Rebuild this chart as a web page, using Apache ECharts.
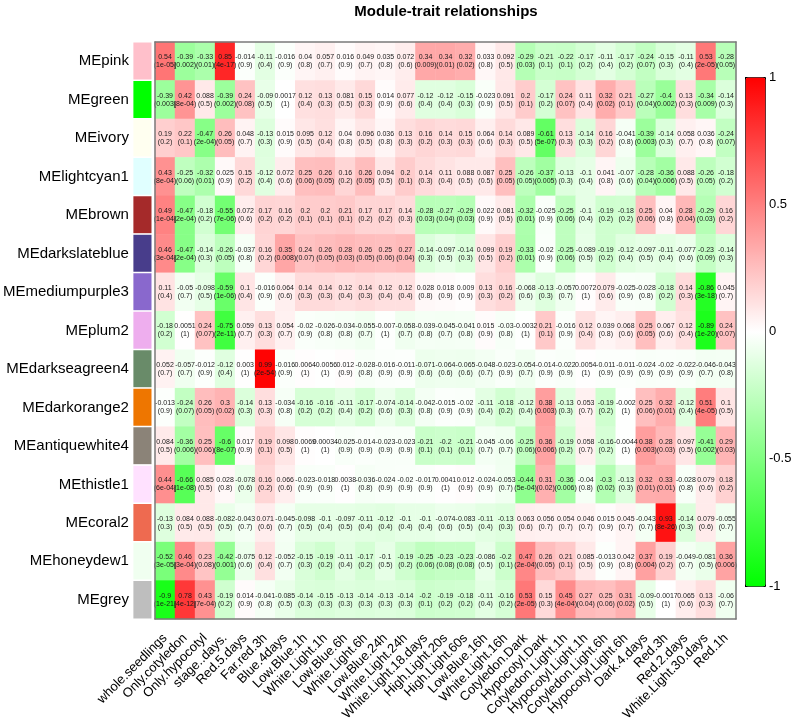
<!DOCTYPE html>
<html>
<head>
<meta charset="utf-8">
<title>Module-trait relationships</title>
<script src="https://cdn.jsdelivr.net/npm/echarts@6/dist/echarts.min.js"></script>
<style>
  html, body { margin: 0; padding: 0; background: #fff; }
  #main { width: 796px; height: 725px; }
</style>
</head>
<body>
<div id="main"></div>
<script>
// traits (columns)
const traits = ['whole.seedlings', 'Only.cotyledon', 'Only.hypocotyl', 'stage..days.', 'Red.5.days',
  'Far.red.3h', 'Blue.4days', 'Low.Blue.1h', 'White.Light.1h', 'Low.Blue.6h', 'White.Light.6h',
  'Low.Blue.24h', 'White.Light.24h', 'White.Light.18.days', 'High.Light.20s', 'High.Light.60s',
  'Low.Blue.16h', 'White.Light.16h', 'Cotyledon.Dark', 'Hypocotyl.Dark', 'Cotyledon.Light.1h',
  'Hypocotyl.Light.1h', 'Cotyledon.Light.6h', 'Hypocotyl.Light.6h', 'Dark.4.days', 'Red.3h',
  'Red.2.days', 'White.Light.30.days', 'Red.1h']

// modules (rows) and their colours
const modules = ['MEpink', 'MEgreen', 'MEivory', 'MElightcyan1', 'MEbrown', 'MEdarkslateblue',
  'MEmediumpurple3', 'MEplum2', 'MEdarkseagreen4', 'MEdarkorange2', 'MEantiquewhite4',
  'MEthistle1', 'MEcoral2', 'MEhoneydew1', 'MEgrey']
const moduleColors = ['#FFC0CB', '#00FF00', '#FFFFF0', '#E0FFFF', '#A52A2A', '#483D8B',
  '#8968CD', '#EEAEEE', '#698B69', '#EE7600', '#8B8378', '#FFE1FF', '#EE6A50', '#F0FFF0', '#BEBEBE']

// correlation (r) and p-value (p) per module
const MEpink_r = [0.54, -0.39, -0.33, 0.85, -0.014, -0.11, -0.016, 0.04, 0.057, 0.016, 0.049, 0.035, 0.072, 0.34, 0.34, 0.32, 0.033, 0.092, -0.29, -0.21, -0.22, -0.17, -0.11, -0.17, -0.24, -0.15, -0.11, 0.53, -0.28]
const MEpink_p = ['1e-05', '0.002', '0.01', '4e-17', '0.9', '0.4', '0.9', '0.8', '0.7', '0.9', '0.7', '0.8', '0.6', '0.009', '0.01', '0.02', '0.8', '0.5', '0.03', '0.1', '0.1', '0.2', '0.4', '0.2', '0.07', '0.3', '0.4', '2e-05', '0.05']

const MEgreen_r = [-0.39, 0.42, 0.088, -0.39, 0.24, -0.09, 0.0017, 0.12, 0.13, 0.081, 0.15, 0.014, 0.077, -0.12, -0.12, -0.15, -0.023, 0.091, 0.2, -0.17, 0.24, 0.11, 0.32, 0.21, -0.27, -0.4, 0.13, -0.34, -0.14]
const MEgreen_p = ['0.003', '8e-04', '0.5', '0.002', '0.08', '0.5', '1', '0.4', '0.3', '0.5', '0.3', '0.9', '0.6', '0.4', '0.4', '0.3', '0.9', '0.5', '0.1', '0.2', '0.07', '0.4', '0.02', '0.1', '0.04', '0.002', '0.3', '0.009', '0.3']

const MEivory_r = [0.19, 0.22, -0.47, 0.26, 0.048, -0.13, 0.015, 0.095, 0.12, 0.04, 0.096, 0.036, 0.13, 0.16, 0.14, 0.15, 0.064, 0.14, 0.089, -0.61, 0.13, -0.14, 0.16, -0.041, -0.39, -0.14, 0.058, 0.036, -0.24]
const MEivory_p = ['0.2', '0.1', '2e-04', '0.05', '0.7', '0.3', '0.9', '0.5', '0.4', '0.8', '0.5', '0.8', '0.3', '0.2', '0.3', '0.3', '0.6', '0.3', '0.5', '5e-07', '0.3', '0.3', '0.2', '0.8', '0.003', '0.3', '0.7', '0.8', '0.07']

const MElightcyan1_r = [0.43, -0.25, -0.32, 0.025, 0.15, -0.12, 0.072, 0.25, 0.26, 0.16, 0.26, 0.094, 0.2, 0.14, 0.11, 0.088, 0.087, 0.25, -0.26, -0.37, -0.13, -0.1, 0.041, -0.07, -0.28, -0.36, 0.088, -0.26, -0.18]
const MElightcyan1_p = ['8e-04', '0.06', '0.01', '0.9', '0.2', '0.4', '0.6', '0.06', '0.05', '0.2', '0.05', '0.5', '0.1', '0.3', '0.4', '0.5', '0.5', '0.05', '0.05', '0.005', '0.3', '0.4', '0.8', '0.6', '0.04', '0.006', '0.5', '0.05', '0.2']

const MEbrown_r = [0.49, -0.47, -0.18, -0.55, 0.072, 0.17, 0.16, 0.2, 0.2, 0.21, 0.17, 0.17, 0.14, -0.28, -0.27, -0.29, 0.022, 0.081, -0.32, -0.025, -0.25, -0.1, -0.19, -0.18, 0.25, 0.04, 0.28, -0.29, 0.16]
const MEbrown_p = ['1e-04', '2e-04', '0.2', '7e-06', '0.6', '0.2', '0.2', '0.1', '0.1', '0.1', '0.2', '0.2', '0.3', '0.03', '0.04', '0.03', '0.9', '0.5', '0.01', '0.9', '0.06', '0.4', '0.2', '0.2', '0.06', '0.8', '0.04', '0.03', '0.2']

const MEdarkslateblue_r = [0.46, -0.47, -0.14, -0.26, -0.037, 0.16, 0.35, 0.24, 0.26, 0.28, 0.26, 0.25, 0.27, -0.14, -0.097, -0.14, 0.099, 0.19, -0.33, -0.02, -0.25, -0.089, -0.19, -0.12, -0.097, -0.11, -0.077, -0.23, -0.14]
const MEdarkslateblue_p = ['3e-04', '2e-04', '0.3', '0.05', '0.8', '0.2', '0.008', '0.07', '0.05', '0.03', '0.05', '0.06', '0.04', '0.3', '0.5', '0.3', '0.5', '0.2', '0.01', '0.9', '0.06', '0.5', '0.2', '0.4', '0.5', '0.4', '0.6', '0.09', '0.3']

const MEmediumpurple3_r = [0.11, -0.05, -0.098, -0.59, 0.1, -0.016, 0.064, 0.14, 0.14, 0.12, 0.14, 0.12, 0.12, 0.028, 0.018, 0.009, 0.13, 0.16, -0.068, -0.13, -0.057, 0.0072, 0.079, -0.025, -0.028, -0.18, 0.14, -0.86, 0.045]
const MEmediumpurple3_p = ['0.4', '0.7', '0.5', '1e-06', '0.4', '0.9', '0.6', '0.3', '0.3', '0.4', '0.3', '0.4', '0.4', '0.8', '0.9', '0.9', '0.3', '0.2', '0.6', '0.3', '0.7', '1', '0.6', '0.9', '0.8', '0.2', '0.3', '3e-18', '0.7']

const MEplum2_r = [-0.18, 0.0051, 0.24, -0.75, 0.059, 0.13, 0.054, -0.02, -0.026, -0.034, -0.055, -0.007, -0.058, -0.039, -0.045, -0.041, 0.015, -0.03, -0.0032, 0.21, -0.016, 0.12, 0.039, 0.068, 0.25, 0.067, 0.12, -0.89, 0.24]
const MEplum2_p = ['0.2', '1', '0.07', '2e-11', '0.7', '0.3', '0.7', '0.9', '0.8', '0.8', '0.7', '1', '0.7', '0.8', '0.7', '0.8', '0.9', '0.8', '1', '0.1', '0.9', '0.4', '0.8', '0.6', '0.05', '0.6', '0.4', '1e-20', '0.07']

const MEdarkseagreen4_r = [0.052, -0.057, -0.012, -0.12, 0.003, 0.99, -0.016, 0.0064, -0.0056, 0.012, -0.028, -0.016, -0.011, -0.071, -0.064, -0.065, -0.048, -0.023, -0.054, -0.014, -0.022, 0.0054, -0.011, -0.011, -0.024, -0.02, -0.022, -0.046, -0.043]
const MEdarkseagreen4_p = ['0.7', '0.7', '0.9', '0.4', '1', '2e-54', '0.9', '1', '1', '0.9', '0.8', '0.9', '0.9', '0.6', '0.6', '0.6', '0.7', '0.9', '0.7', '0.9', '0.9', '1', '0.9', '0.9', '0.9', '0.9', '0.9', '0.7', '0.8']

const MEdarkorange2_r = [-0.013, -0.24, 0.26, 0.3, -0.14, 0.13, -0.034, -0.16, -0.16, -0.11, -0.17, -0.074, -0.14, -0.042, -0.015, -0.02, -0.11, -0.18, -0.12, 0.38, -0.13, 0.053, -0.19, -0.002, 0.25, 0.32, -0.12, 0.51, 0.1]
const MEdarkorange2_p = ['0.9', '0.07', '0.05', '0.02', '0.3', '0.3', '0.8', '0.2', '0.2', '0.4', '0.2', '0.6', '0.3', '0.8', '0.9', '0.9', '0.4', '0.2', '0.4', '0.003', '0.3', '0.7', '0.2', '1', '0.06', '0.01', '0.4', '4e-05', '0.5']

const MEantiquewhite4_r = [0.084, -0.36, 0.25, -0.6, 0.017, 0.19, 0.098, 0.0069, 0.00034, -0.025, -0.014, -0.023, -0.023, -0.21, -0.2, -0.21, -0.045, -0.06, -0.25, 0.36, -0.19, 0.058, -0.16, -0.0044, 0.38, 0.28, 0.097, -0.41, 0.29]
const MEantiquewhite4_p = ['0.5', '0.006', '0.06', '8e-07', '0.9', '0.1', '0.5', '1', '1', '0.9', '0.9', '0.9', '0.9', '0.1', '0.1', '0.1', '0.7', '0.7', '0.06', '0.006', '0.2', '0.7', '0.2', '1', '0.003', '0.03', '0.5', '0.002', '0.03']

const MEthistle1_r = [0.44, -0.66, 0.085, 0.028, -0.078, 0.16, 0.066, -0.023, -0.018, 0.0038, -0.036, -0.024, -0.02, -0.017, 0.0041, 0.012, -0.024, -0.053, -0.44, 0.31, -0.36, -0.04, -0.3, -0.13, 0.32, 0.33, -0.028, 0.079, 0.18]
const MEthistle1_p = ['6e-04', '1e-08', '0.5', '0.8', '0.6', '0.2', '0.6', '0.9', '0.9', '1', '0.8', '0.9', '0.9', '0.9', '1', '0.9', '0.9', '0.7', '5e-04', '0.02', '0.006', '0.8', '0.02', '0.3', '0.01', '0.01', '0.8', '0.6', '0.2']

const MEcoral2_r = [-0.13, 0.084, 0.088, -0.082, -0.043, 0.071, -0.045, -0.098, -0.1, -0.097, -0.11, -0.12, -0.1, -0.1, -0.074, -0.083, -0.11, -0.13, 0.063, 0.056, 0.054, 0.046, 0.015, 0.045, -0.043, 0.93, -0.14, 0.079, -0.055]
const MEcoral2_p = ['0.3', '0.5', '0.5', '0.5', '0.7', '0.6', '0.7', '0.5', '0.4', '0.5', '0.4', '0.4', '0.4', '0.4', '0.6', '0.5', '0.4', '0.3', '0.6', '0.7', '0.7', '0.7', '0.9', '0.7', '0.7', '8e-26', '0.3', '0.6', '0.7']

const MEhoneydew1_r = [-0.52, 0.46, 0.23, -0.42, -0.075, 0.12, -0.052, -0.15, -0.19, -0.11, -0.17, -0.1, -0.19, -0.25, -0.23, -0.23, -0.086, -0.2, 0.47, 0.26, 0.21, 0.085, -0.013, 0.042, 0.37, 0.19, -0.049, -0.081, 0.36]
const MEhoneydew1_p = ['3e-05', '3e-04', '0.08', '0.001', '0.6', '0.4', '0.7', '0.3', '0.2', '0.4', '0.2', '0.5', '0.2', '0.06', '0.08', '0.08', '0.5', '0.1', '2e-04', '0.05', '0.1', '0.5', '0.9', '0.8', '0.004', '0.2', '0.7', '0.5', '0.006']

const MEgrey_r = [-0.9, 0.78, 0.43, -0.19, 0.014, -0.041, -0.085, -0.14, -0.15, -0.13, -0.14, -0.13, -0.14, -0.2, -0.19, -0.18, -0.11, -0.16, 0.53, 0.15, 0.45, 0.27, 0.25, 0.31, -0.09, -0.0017, 0.065, 0.13, -0.06]
const MEgrey_p = ['1e-21', '4e-12', '7e-04', '0.2', '0.9', '0.8', '0.5', '0.3', '0.3', '0.3', '0.3', '0.3', '0.3', '0.1', '0.2', '0.2', '0.4', '0.2', '2e-05', '0.3', '4e-04', '0.04', '0.06', '0.02', '0.5', '1', '0.6', '0.3', '0.7']

// colour bar ticks
const legendTicks = [-1, -0.5, 0, 0.5, 1]

const corRows = [MEpink_r, MEgreen_r, MEivory_r, MElightcyan1_r, MEbrown_r, MEdarkslateblue_r,
  MEmediumpurple3_r, MEplum2_r, MEdarkseagreen4_r, MEdarkorange2_r, MEantiquewhite4_r,
  MEthistle1_r, MEcoral2_r, MEhoneydew1_r, MEgrey_r]
const pRows = [MEpink_p, MEgreen_p, MEivory_p, MElightcyan1_p, MEbrown_p, MEdarkslateblue_p,
  MEmediumpurple3_p, MEplum2_p, MEdarkseagreen4_p, MEdarkorange2_p, MEantiquewhite4_p,
  MEthistle1_p, MEcoral2_p, MEhoneydew1_p, MEgrey_p]

const FONT = '"Liberation Sans", Arial, sans-serif'

// heatmap cells: [trait index, module index, r, p]
let cells = []
corRows.forEach((row, i) => {
  row.forEach((r, j) => {
    cells.push([j, i, r, pRows[i][j]])
  })
})

// module colour swatches
let swatches = modules.map((m, i) => ({
  value: [0, i, 1],
  itemStyle: { color: moduleColors[i] }
}))

const frameLine = { show: true, lineStyle: { color: '#7a7a7a', width: 1.5 } }

let chart = echarts.init(document.getElementById('main'))

chart.setOption({
  backgroundColor: '#fff',
  animation: false,
  textStyle: { fontFamily: FONT },
  title: {
    text: 'Module-trait relationships',
    left: 446,
    top: 4,
    padding: 0,
    textAlign: 'center',
    textStyle: { fontFamily: FONT, fontSize: 15, fontWeight: 'bold', color: '#000' }
  },
  grid: [
    { left: 127, top: 42, width: 25, height: 577 },
    { left: 155, top: 42, width: 581, height: 577 },
    { left: 745, top: 77, width: 20, height: 509 }
  ],
  xAxis: [
    { type: 'category', gridIndex: 0, data: ['module'], show: false },
    {
      type: 'category', gridIndex: 1, data: traits, position: 'bottom', z: 10,
      axisLine: frameLine, axisTick: { show: false },
      axisLabel: { interval: 0, rotate: 45, fontSize: 13, color: '#000', margin: 17, fontFamily: FONT }
    },
    {
      type: 'category', gridIndex: 1, data: traits, position: 'top', z: 10,
      axisLine: frameLine, axisTick: { show: false }, axisLabel: { show: false }
    },
    { type: 'value', gridIndex: 2, show: false, min: 0, max: 1 }
  ],
  yAxis: [
    {
      type: 'category', gridIndex: 0, data: modules, inverse: true,
      axisLine: { show: false }, axisTick: { show: false },
      axisLabel: { fontSize: 15, color: '#000', margin: 4, fontFamily: FONT }
    },
    {
      type: 'category', gridIndex: 1, data: modules, inverse: true, position: 'left', z: 10,
      axisLine: frameLine, axisTick: { show: false }, axisLabel: { show: false }
    },
    {
      type: 'category', gridIndex: 1, data: modules, inverse: true, position: 'right', z: 10,
      axisLine: frameLine, axisTick: { show: false }, axisLabel: { show: false }
    },
    {
      type: 'value', gridIndex: 2, position: 'right',
      min: legendTicks[0], max: legendTicks[legendTicks.length - 1],
      interval: legendTicks[1] - legendTicks[0],
      axisLine: { show: false },
      axisTick: { show: true, length: 5, lineStyle: { color: '#000' } },
      axisLabel: { fontSize: 13, color: '#000', margin: 4, fontFamily: FONT },
      splitLine: { show: false }
    }
  ],
  visualMap: {
    type: 'continuous',
    seriesIndex: 1,
    dimension: 2,
    min: -1,
    max: 1,
    calculable: false,
    left: 745,
    top: 77,
    itemWidth: 20,
    itemHeight: 509,
    padding: 0,
    borderColor: '#000',
    borderWidth: 1,
    inRange: { color: ['#00FF00', '#FFFFFF', '#FF0000'] }
  },
  series: [
    {
      type: 'heatmap',
      xAxisIndex: 0,
      yAxisIndex: 0,
      data: swatches,
      itemStyle: { borderColor: '#fff', borderWidth: 1.5 },
      emphasis: { disabled: true }
    },
    {
      type: 'heatmap',
      xAxisIndex: 1,
      yAxisIndex: 1,
      data: cells,
      label: {
        show: true,
        fontSize: 7,
        lineHeight: 8,
        color: '#1a1a1a',
        fontFamily: FONT,
        formatter: p => p.value[2] + '\n(' + p.value[3] + ')'
      },
      emphasis: { disabled: true }
    },
    {
      type: 'scatter',
      xAxisIndex: 3,
      yAxisIndex: 3,
      data: [],
      silent: true
    }
  ]
})
</script>
</body>
</html>
